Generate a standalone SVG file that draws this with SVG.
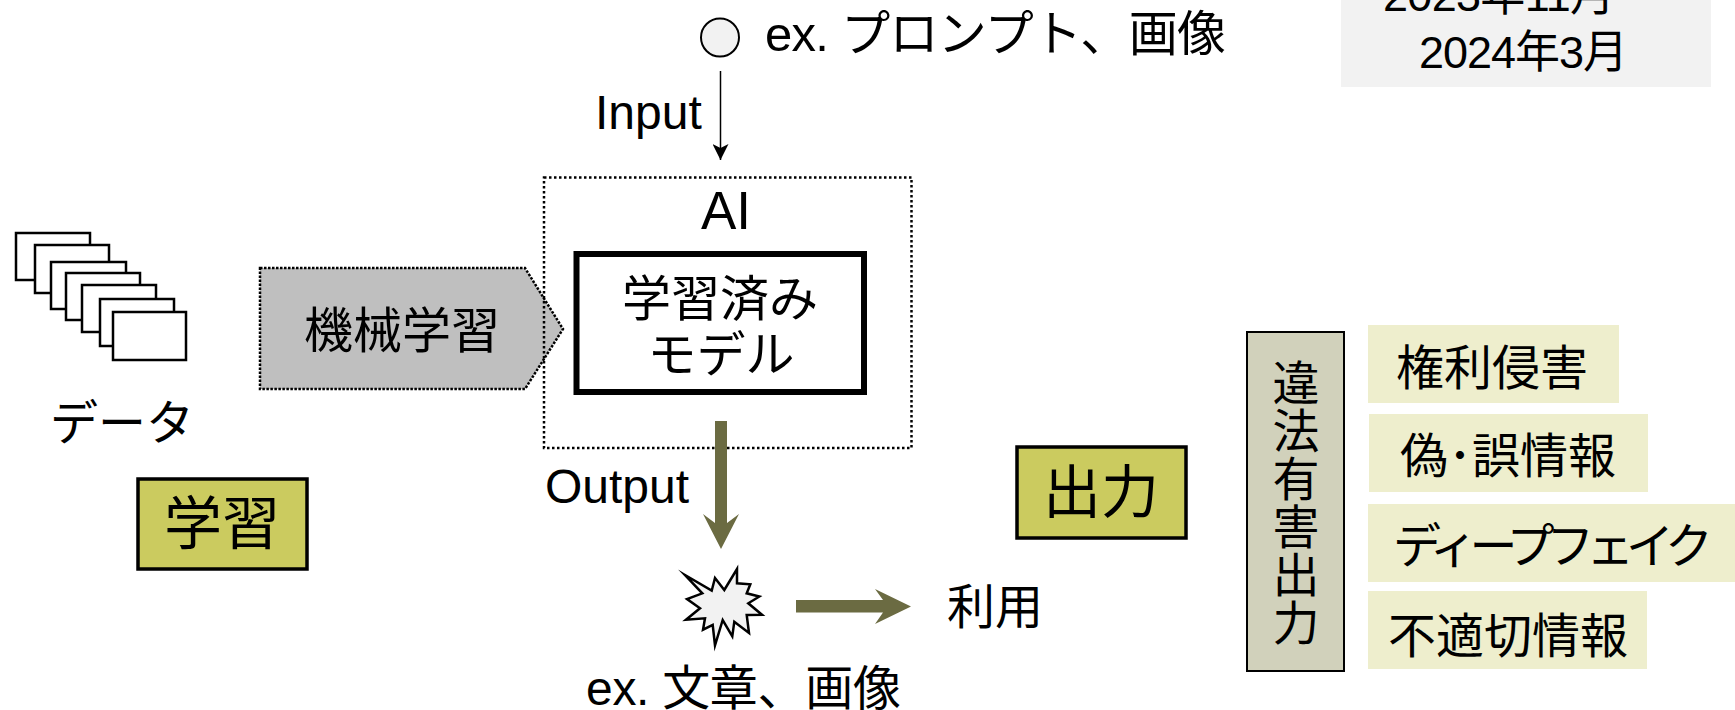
<svg xmlns="http://www.w3.org/2000/svg" width="1735" height="710" viewBox="0 0 1735 710">
<style>
text{font-family:"Liberation Sans","Noto Sans CJK JP",sans-serif;fill:#000}
.t{font-size:48px}
.l{font-weight:400}
.doc{fill:#fff;stroke:#000;stroke-width:2.500}
.tag{fill:#cbcb5f;stroke:#000;stroke-width:3.500}
.item{fill:#eeeecd}
.g{fill:#6b6b42}
.c{text-anchor:middle}
</style>
<defs>
<marker id="thin" markerUnits="userSpaceOnUse" markerWidth="18" markerHeight="16" refX="16" refY="8" orient="auto"><path d="M0 0L16 8L0 16L4 8Z" fill="#000"/></marker>
</defs>
<rect width="1735" height="710" fill="#fff"/>
<g id="period"><rect x="1341" y="0" width="370" height="87" fill="#f2f2f2"/><text x="1383" y="11" font-size="45" textLength="232">2023年11月</text><text x="1419" y="68" font-size="45" textLength="209">2024年3月</text></g>
<g id="data"><rect class="doc" x="16" y="233" width="74" height="47"/><rect class="doc" x="35" y="245" width="74" height="48"/><rect class="doc" x="51" y="262" width="75" height="47"/><rect class="doc" x="66" y="273" width="74" height="47"/><rect class="doc" x="82" y="285" width="74" height="47"/><rect class="doc" x="100" y="299" width="74" height="47"/><rect class="doc" x="113" y="312" width="73" height="48"/><text class="t l c" x="122" y="440">データ</text></g>
<g id="ml"><path d="M260 268H525L563 329L525 389H260Z" fill="#bfbfbf" stroke="#000" stroke-width="2.500" stroke-dasharray="2.500 1.500"/><text class="l c" x="402" y="348" font-size="49">機械学習</text></g>
<g id="ai"><rect x="544" y="177.500" width="367.500" height="270.500" fill="none" stroke="#000" stroke-width="2.500" stroke-dasharray="2.500 2.500"/><text class="c" x="726" y="229" font-size="53">AI</text></g>
<g id="model"><rect x="576.500" y="254" width="287.500" height="138" fill="#fff" stroke="#000" stroke-width="6"/><text class="l c" x="720" y="316" font-size="49">学習済み</text><text class="l c" x="721" y="372" font-size="49">モデル</text></g>
<g id="tag-learn"><rect class="tag" x="138" y="479" width="169" height="90"/><text class="l c" x="222" y="544" font-size="58">学習</text></g>
<g id="tag-output"><rect class="tag" x="1017" y="447" width="169" height="91"/><text class="l c" x="1101" y="513" font-size="58">出力</text></g>
<g id="input"><ellipse cx="720" cy="37.500" rx="19" ry="19" fill="#f2f2f2" stroke="#000" stroke-width="2"/><text x="765" y="51" font-size="49" class="l" textLength="461">ex. プロンプト、画像</text></g>
<g id="output"><path d="M685 575L711.700 590.700L715 578L724.300 590L737 569L737 583.300L750.300 584.300L746.700 593.300L759.300 596.500L748.300 603.300L762 614.700L746.700 615L749 633L734.300 621.700L732.300 636.300L722.700 620L715 645.300L712.700 625L703 629.700L705 618.300L686 619.700L700 608.300L687 599L702.300 593.300Z" fill="#f2f2f2" stroke="#000" stroke-width="2.500" stroke-miterlimit="12"/><text class="t l" x="586" y="705" textLength="315">ex. 文章、画像</text></g>
<g id="use"><text class="l" x="947" y="624" font-size="48">利用</text></g>
<g id="illegal"><rect x="1247" y="332" width="97" height="339" fill="#d1d1bb" stroke="#000" stroke-width="2"/><text x="1292" y="359" font-size="47" style="writing-mode:vertical-rl;letter-spacing:1px">違法有害出力</text></g>
<g id="rights"><rect class="item" x="1368" y="325" width="251" height="78"/><text class="t" x="1396" y="385" textLength="192">権利侵害</text></g>
<g id="false-info"><rect class="item" x="1369" y="414" width="279" height="78"/><text class="t" x="1400" y="473" textLength="216">偽･誤情報</text></g>
<g id="deepfake"><rect class="item" x="1368" y="504" width="367" height="78"/><text class="t" x="1393" y="563" textLength="320">ディープフェイク</text></g>
<g id="improper"><rect class="item" x="1368" y="591" width="279" height="78"/><text class="t" x="1388" y="653" textLength="240">不適切情報</text></g>
<g id="connectors">
<line x1="720.500" y1="71" x2="720.500" y2="160" stroke="#000" stroke-width="1.500" marker-end="url(#thin)"/>
<path class="g" d="M715 421H727V523L739 514L721 549L703 514L715 523Z"/>
<path class="g" d="M796 600H883L875 589L911 606.500L875 624L883 612.500H796Z"/>
</g>
<text x="595" y="129" font-size="48">Input</text>
<text x="545" y="503" font-size="48">Output</text>
</svg>
